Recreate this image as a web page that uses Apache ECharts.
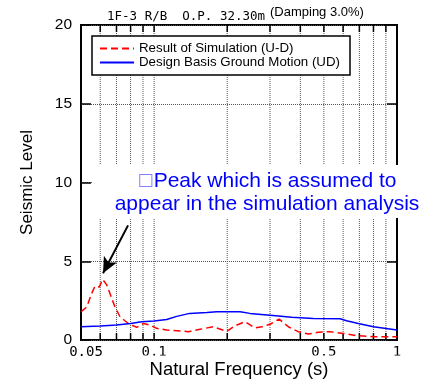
<!DOCTYPE html>
<html>
<head>
<meta charset="utf-8">
<script src="https://cdn.jsdelivr.net/npm/echarts@6/dist/echarts.min.js"></script>
<style>
html, body { margin: 0; padding: 0; background: #fff; }
#chart { width: 427px; height: 382px; }
</style>
</head>
<body>
<div id="chart"></div>
<script>
// natural frequency (s) / seismic level
var simFreq  = [0.05, 0.0528, 0.0553, 0.0571, 0.0595, 0.0614, 0.0638, 0.0658, 0.069, 0.0724, 0.0783, 0.0848, 0.0903, 0.0962, 0.1025, 0.1127, 0.1239, 0.1383, 0.1545, 0.175, 0.199, 0.215, 0.2366, 0.26, 0.278, 0.30, 0.327, 0.357, 0.392, 0.431, 0.474, 0.53, 0.601, 0.68, 0.80, 1.0];
var simLevel = [1.79, 2.1, 2.95, 3.42, 3.37, 3.85, 3.5, 2.95, 2.1, 1.47, 1.05, 0.80, 1.05, 0.95, 0.74, 0.63, 0.59, 0.53, 0.68, 0.84, 0.55, 0.9, 1.16, 0.76, 0.84, 1.0, 1.33, 0.84, 0.53, 0.38, 0.49, 0.53, 0.42, 0.28, 0.21, 0.2];

var dbgmFreq  = [0.05, 0.06, 0.07, 0.08, 0.089, 0.1, 0.1127, 0.1239, 0.14, 0.165, 0.181, 0.226, 0.248, 0.325, 0.368, 0.452, 0.583, 0.62, 0.693, 0.80, 1.0];
var dbgmLevel = [0.84, 0.89, 0.95, 1.05, 1.16, 1.2, 1.3, 1.5, 1.69, 1.75, 1.79, 1.79, 1.69, 1.52, 1.44, 1.37, 1.35, 1.22, 1.05, 0.84, 0.63];

var xGridFreqs  = [0.06, 0.07, 0.08, 0.09, 0.1, 0.2, 0.3, 0.4, 0.5, 0.6, 0.7, 0.8, 0.9];
var xLabelFreqs = [0.05, 0.1, 0.5, 1];
var xTickLabels = ['0.05', '0.1', '0.5', '1'];

// arrow pointing at the peak (tail, head)
var arrowFrom = [0.0781, 7.28];
var arrowTo   = [0.0616, 4.24];

var seriesNames = ['Result of Simulation (U-D)', 'Design Basis Ground Motion (UD)'];

function pairs(xs, ys) {
    var out = [];
    for (var i = 0; i < xs.length; i++) {
        out.push([xs[i], ys[i]]);
    }
    return out;
}

function renderXGrid(params, api) {
    var f = api.value(0);
    var b = api.coord([f, 0]);
    var t = api.coord([f, 20]);
    return {
        type: 'group',
        children: [
            { type: 'line', shape: { x1: b[0], y1: b[1], x2: t[0], y2: t[1] },
              style: { stroke: '#555', lineWidth: 1, lineDash: [1, 1] } },
            { type: 'line', shape: { x1: b[0], y1: b[1], x2: b[0], y2: b[1] - 7 },
              style: { stroke: '#000', lineWidth: 1.5 } },
            { type: 'line', shape: { x1: t[0], y1: t[1], x2: t[0], y2: t[1] + 7 },
              style: { stroke: '#000', lineWidth: 1.5 } }
        ]
    };
}

function renderXLabel(params, api) {
    var f = api.value(0);
    var b = api.coord([f, 0]);
    return {
        type: 'text',
        style: {
            text: xTickLabels[params.dataIndex],
            x: b[0] + (params.dataIndex == 0 ? 5 : 0),
            y: b[1] + 5,
            align: 'center',
            verticalAlign: 'top',
            font: '14px "DejaVu Sans Mono"',
            fill: '#000'
        }
    };
}

var chart = echarts.init(document.getElementById('chart'));

var option = {
    animation: false,
    backgroundColor: '#fff',
    title: [
        { text: '1F-3 R/B  O.P. 32.30m', left: 107, top: 10, padding: 0,
          textStyle: { fontFamily: 'DejaVu Sans Mono', fontSize: 12.5, fontWeight: 'normal', color: '#000' } },
        { text: '(Damping 3.0%)', left: 270, top: 6, padding: 0,
          textStyle: { fontFamily: 'Liberation Sans', fontSize: 13, fontWeight: 'normal', color: '#000' } }
    ],
    legend: {
        data: seriesNames,
        orient: 'vertical',
        left: 92,
        top: 36,
        padding: [6, 10, 6, 7],
        itemWidth: 34,
        itemHeight: 13,
        itemGap: 1,
        borderColor: '#000',
        borderWidth: 1.5,
        backgroundColor: '#fff',
        itemStyle: { opacity: 0 },
        textStyle: { fontFamily: 'Liberation Sans', fontSize: 13.3, color: '#000' }
    },
    grid: {
        left: 81, right: 30, top: 25, bottom: 42,
        containLabel: false,
        outerBoundsMode: 'none',
        show: true,
        borderColor: '#000',
        borderWidth: 2,
        backgroundColor: 'transparent'
    },
    xAxis: {
        type: 'log',
        logBase: 10,
        min: 0.05,
        max: 1,
        name: 'Natural Frequency (s)',
        nameLocation: 'middle',
        nameGap: 20,
        nameTextStyle: { fontFamily: 'Liberation Sans', fontSize: 18.5, color: '#000' },
        axisLine: { show: false },
        axisTick: { show: false },
        axisLabel: { show: false },
        splitLine: { show: false }
    },
    yAxis: [
        {
            type: 'value',
            min: 0,
            max: 20,
            interval: 5,
            name: 'Seismic Level',
            nameLocation: 'middle',
            nameGap: 45,
            nameTextStyle: { fontFamily: 'Liberation Sans', fontSize: 17, color: '#000' },
            axisLine: { show: false },
            axisTick: { show: true, inside: true, length: 10, lineStyle: { color: '#000', width: 1.5 } },
            axisLabel: { fontFamily: 'Liberation Sans', fontSize: 15.5, color: '#000', margin: 9 },
            splitLine: { show: true, lineStyle: { color: '#555', width: 1, type: [1, 1] } }
        },
        {
            type: 'value',
            min: 0,
            max: 20,
            interval: 5,
            position: 'right',
            axisLine: { show: false },
            axisTick: { show: true, inside: true, length: 10, lineStyle: { color: '#000', width: 1.5 } },
            axisLabel: { show: false },
            splitLine: { show: false }
        }
    ],
    series: [
        {
            name: 'x grid',
            type: 'custom',
            silent: true,
            z: 1,
            renderItem: renderXGrid,
            data: xGridFreqs.map(function (f) { return [f, 0]; })
        },
        {
            name: 'x labels',
            type: 'custom',
            silent: true,
            clip: false,
            renderItem: renderXLabel,
            data: xLabelFreqs.map(function (f) { return [f, 0]; })
        },
        {
            name: seriesNames[0],
            type: 'line',
            data: pairs(simFreq, simLevel),
            symbol: 'none',
            smooth: false,
            lineStyle: { color: '#ff0000', width: 1.5, type: [7, 4] },
            itemStyle: { color: '#ff0000' },
            z: 3,
            markLine: {
                silent: true,
                symbol: ['none', 'arrow'],
                symbolSize: [11, 16],
                label: { show: false },
                lineStyle: { color: '#000', width: 2, type: 'solid' },
                data: [[{ coord: arrowFrom }, { coord: arrowTo }]]
            }
        },
        {
            name: seriesNames[1],
            type: 'line',
            data: pairs(dbgmFreq, dbgmLevel),
            symbol: 'none',
            lineStyle: { color: '#0000ff', width: 1.5 },
            itemStyle: { color: '#0000ff' },
            z: 3
        }
    ],
    graphic: [
        { type: 'rect', z: 100, silent: true,
          shape: { x: 92, y: 165, width: 335, height: 53 },
          style: { fill: '#fff' } },
        // tick labels are cut off along their bottom edge in the original
        { type: 'rect', z: 100, silent: true,
          shape: { x: 108, y: 355.5, width: 319, height: 6 },
          style: { fill: '#fff' } },
        { type: 'text', z: 101, silent: true, x: 267, y: 169,
          style: {
              text: '{sq|\u25A1}{t|Peak which is assumed to}\n{t|appear in the simulation analysis}',
              align: 'center',
              verticalAlign: 'top',
              rich: {
                  sq: { fontFamily: 'DejaVu Sans', fontSize: 17, fill: '#8080ff', lineHeight: 23.5 },
                  t: { fontFamily: 'Liberation Sans', fontSize: 21, fill: '#0000ff', lineHeight: 23.5 }
              }
          } }
    ]
};

chart.setOption(option);
</script>
</body>
</html>
